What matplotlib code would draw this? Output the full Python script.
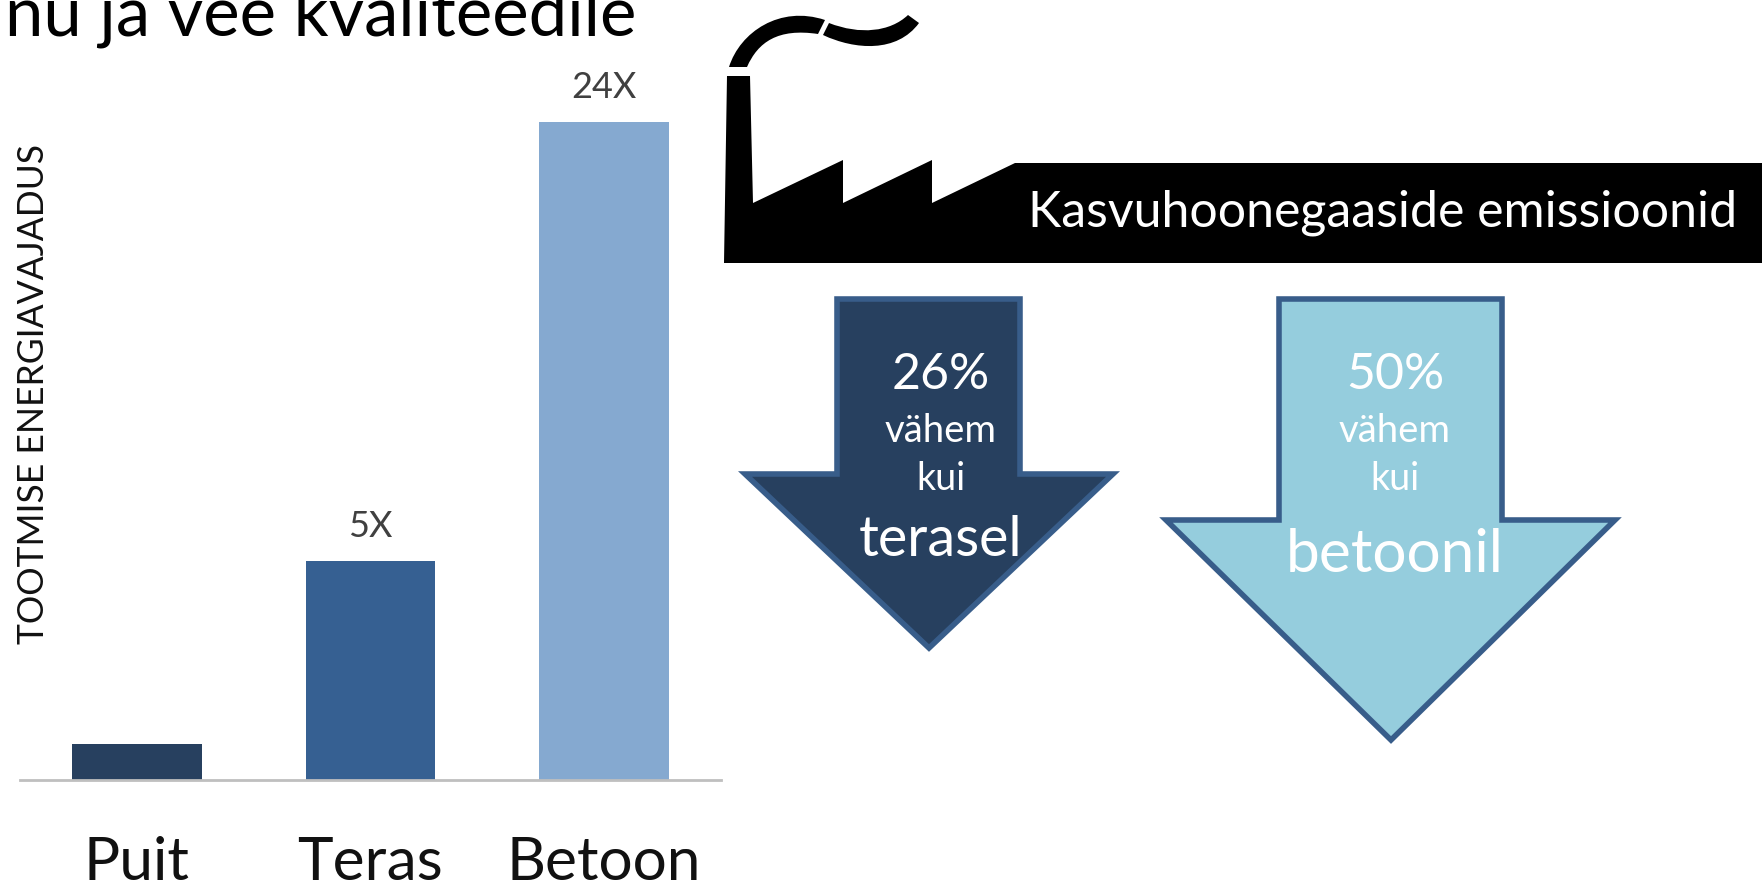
import matplotlib
matplotlib.use("Agg")
import matplotlib.pyplot as plt
from matplotlib.patches import Polygon, PathPatch
from matplotlib.path import Path

plt.rcParams['font.family'] = ['Lato', 'DejaVu Sans']

W, H = 1762, 885

# bar chart data (heights as drawn, labels as printed)
materials = ["Puit", "Teras", "Betoon"]
heights = [1.3, 8.0, 24.0]
bar_labels = ["", "5X", "24X"]
bar_colors = ["#27405F", "#366092", "#85A9D0"]

fig = plt.figure(figsize=(W / 100, H / 100), dpi=100, facecolor="white")

# ─── overlay in pixel coords for the factory and arrows
bg = fig.add_axes([0, 0, 1, 1])
bg.set_xlim(0, W); bg.set_ylim(H, 0); bg.axis("off")

# ─── bars
ax = fig.add_axes([20 / W, 1 - 780 / H, 701 / W, 658 / H])
ax.patch.set_alpha(0)
ax.bar(range(3), heights, width=0.556, color=bar_colors)
ax.set_xlim(-0.5, 2.5); ax.set_ylim(0, 24)
for s in ["top", "left", "right"]:
    ax.spines[s].set_visible(False)
ax.spines["bottom"].set_color("#BFBFBF")
ax.spines["bottom"].set_linewidth(2)
ax.set_yticks([])
ax.set_xticks(range(3))
ax.set_xticklabels(materials, fontsize=43.5, color="#111111")
ax.tick_params(axis="x", length=0, pad=40)
for i, lab in enumerate(bar_labels):
    ax.annotate(lab, (i, heights[i]), xytext=(0, 13), textcoords="offset points",
                ha="center", va="bottom", fontsize=26, color="#404040")

bg.text(34, 394, "TOOTMISE ENERGIAVAJADUS", rotation=90, ha="center", va="center",
        fontsize=25.6, color="#111111")
bg.text(5, 36, "nu ja vee kvaliteedile", ha="left", va="baseline", fontsize=49.6, color="black")

# ─── factory silhouette
factory = [(724, 263), (727, 76), (750, 76), (753, 203), (843, 160), (843, 203),
           (932, 160), (932, 203), (1015, 163), (W, 163), (W, 263)]
bg.add_patch(Polygon(factory, closed=True, fc="black", ec="none"))

C4 = Path.CURVE4
smoke1 = Path([(729, 67), (740, 32), (780, 5), (825, 20), (818, 34), (778, 28), (758, 42), (747, 67), (729, 67)],
              [Path.MOVETO, C4, C4, C4, Path.LINETO, C4, C4, C4, Path.CLOSEPOLY])
smoke2 = Path([(829, 23), (860, 35), (890, 32), (908, 15), (919, 23), (897, 53), (855, 50), (823, 35), (829, 23)],
              [Path.MOVETO, C4, C4, C4, Path.LINETO, C4, C4, C4, Path.CLOSEPOLY])
bg.add_patch(PathPatch(smoke1, fc="black", ec="none"))
bg.add_patch(PathPatch(smoke2, fc="black", ec="none"))

bg.text(1028, 213, "Kasvuhoonegaaside emissioonid", ha="left", va="center",
        fontsize=36, color="white")

# ─── arrows
def down_arrow(x0, x1, top, head_y, left, right, tip_x, tip_y, fill):
    pts = [(x0, top), (x1, top), (x1, head_y), (right, head_y),
           (tip_x, tip_y), (left, head_y), (x0, head_y)]
    bg.add_patch(Polygon(pts, closed=True, fc=fill, ec="#385D8A", lw=4, joinstyle="miter"))

down_arrow(837, 1020, 299, 474, 745, 1113, 929, 648, "#27405F")
down_arrow(1279, 1502, 299, 520, 1166, 1615, 1391, 740, "#95CDDD")

for cx, pct, word, word_y, word_size in [(941, "26%", "terasel", 540, 40),
                                         (1395, "50%", "betoonil", 555, 43.5)]:
    bg.text(cx, 375, pct, ha="center", va="center", fontsize=36, color="white")
    bg.text(cx, 431, "vähem", ha="center", va="center", fontsize=27.5, color="white")
    bg.text(cx, 479, "kui", ha="center", va="center", fontsize=27, color="white")
    bg.text(cx, word_y, word, ha="center", va="center", fontsize=word_size, color="white")

fig.savefig("out.png", dpi=100)
